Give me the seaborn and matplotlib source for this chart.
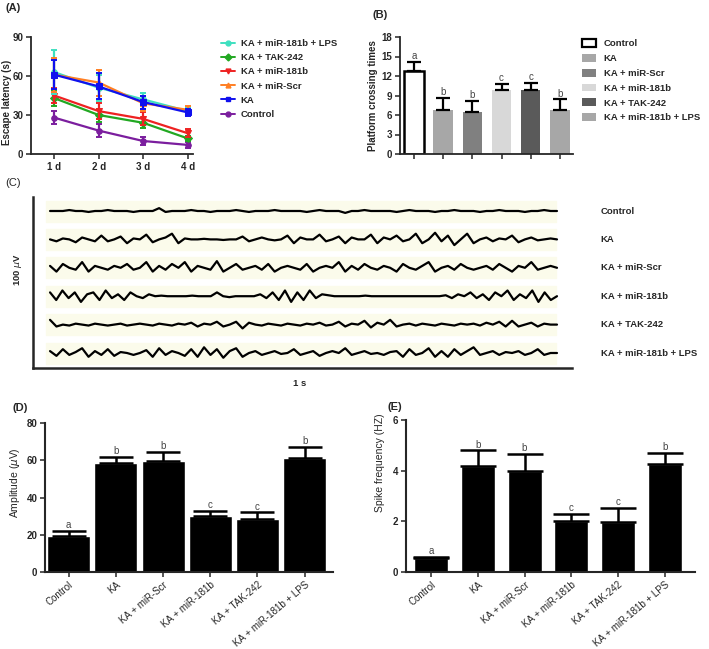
import numpy as np
import matplotlib
matplotlib.use("Agg")
import matplotlib.pyplot as plt
from matplotlib.patches import Patch
from matplotlib.lines import Line2D
import seaborn as sns

sns.set_style("ticks")
plt.rcParams['font.family'] = ['Liberation Sans', 'DejaVu Sans']

# ---- data ----
days = [1, 2, 3, 4]
day_labels = ["1 d", "2 d", "3 d", "4 d"]

latency_lps = [63, 51, 42, 33]
latency_lps_err = [17, 10, 5, 3]
latency_tak = [43, 30, 24, 12]
latency_tak_err = [6, 5, 4, 2]
latency_181b = [45, 33, 27, 16]
latency_181b_err = [6, 6, 5, 3]
latency_scr = [61, 55, 39, 34]
latency_scr_err = [13, 10, 6, 3]
latency_ka = [61, 52, 40, 32]
latency_ka_err = [11, 10, 5, 3]
latency_ctrl = [28, 18, 10, 7]
latency_ctrl_err = [5, 5, 3, 2]

groups = ["Control", "KA", "KA + miR-Scr", "KA + miR-181b", "KA + TAK-242", "KA + miR-181b + LPS"]
letters = ["a", "b", "b", "c", "c", "b"]

crossing = [12.8, 6.8, 6.5, 9.8, 9.9, 6.7]
crossing_err = [1.4, 1.8, 1.7, 1.0, 1.1, 1.7]

amplitude = [19.5, 58.5, 59.5, 30.0, 28.5, 61.0]
amplitude_err = [2.5, 3.5, 5.0, 3.0, 3.5, 6.0]

spike = [0.55, 4.2, 4.0, 2.0, 1.97, 4.25]
spike_err = [0.05, 0.6, 0.65, 0.3, 0.55, 0.45]

# EEG traces (rough shape)
eeg_ctrl = [0, 0, 0, 0.5, 0, 0, -0.5, 0, 0, 0.5, 0, 0, 0, -0.5, 0, 0, 0, 1.5, -0.5, 0, 0, 0, 0.5, 0, 0,
            -0.5, 0, 0, 0, 0.5, 0, -0.5, 0, 0, 0, 0.5, 0, 0, 0, 0, -0.5, 0, 0.5, 0, 0, 0, -1, 0, 0, 0.5,
            0, 0, 0, 0, -0.5, 0, 0.5, 0, 0, 0, -0.5, 0, 0, 0.5, 0, 0, 0, -0.5, 0, 0, 0.5, 0, 0, 0, -0.5,
            0, 0, 0.5, 0, 0]
eeg_ka = [0, -1, 0.5, 0, -1.5, 1, 0, -1, 2, -1, 0, 1.5, -2, 0.5, 0, 2.5, -1.5, 0, 1, 3, -2, 0.5,
          0, 0, 0.3, 0, 0, -0.3, 0, 0,
          1.5, -1, 0, 1, 0, -0.5, 0, 2, -2, 1, 0, 0, 2.5, -1, 0, 1.5, -2, 1, 0, 0, 2.5, -2, 1, 0, 2,
          -1, 0, 3, -2, 0, 3.5, -1, 2, -3, 0, 3, -2, 0, 1, -1, 0.5, 0, 2, -1.5, 0, 1, -0.5, 0, 0.5, 0]
eeg_scr = [1, -2, 2, 0, -1, 3, -2, 1, 0, -1, 1, 0, 2, -1, 0, 3, -2, 1, -1, 2, 0, 3, -2, 1, 0, -1, 3.5,
           -2, 0, 2, -1, 0, 1, -1, 2, -2, 0, 1, 0, -1, 2, -2, 0, 1, 0, 3, -2, 1, -1, 2, 0, -1, 1, 0,
           -2, 2, 0, -1, 1, 3, -2, 0, 1, -1, 2, 0, -1, 0, 1, -1, 2, 0, -2, 1, 0, 3, -1, 0, 1, 0]
eeg_181b = [2, -2, 3, -1, 2, -3, 1, 2, -2, 3, -1, 1, -2, 2, 0, -1, 1,
            0, 0.3, 0, 0, 0, 0, 0.3, 0, 0, 0,
            2, 0, -0.5, 0, 0, 0, 0,
            1, -1, 2, -2, 3, -3, 2, -2, 3, -1, 1, 0.5,
            0, 0, 0, 0, 0, 0.3, 0, 0, 0, 0, 0, 0, 0, 0, 0, 0, 0, 0,
            0.5, -1, 1, 0, 2, -1, 1, -2, 2, 0, 3, -2, 1, -1, 3, -3, 2, -2, 0]
eeg_tak = [2.5, -1, 0, -0.5, 0.5, 0, -0.5, 0.5, 0, -0.5, 0, 0.5, -0.5, 0, 0.5, 0, -0.5, 0.5, 0, -0.5,
           0.5, 0, 1, -1, 0.5, 0, 1.5, -1, 0, 1.5, -2, 1, 0, -0.5, 0.5, 0, -0.5, 0.5, 0, -0.5, 0.5,
           0, 1, -0.5, 0, 1.5, -1, 0.5, 0, 2, -1.5, 1, 0, 2.5, -1, 0, 0.5, -0.5, 0.5, 0, -0.5, 0.5,
           0, -0.5, 0.5, 0, 0.5, -0.5, 1, 0, 1.5, -1, 2, -1, 0, 1, -1, 0.5, 0, 0]
eeg_lps = [1, -1.5, 2, -1, 0.5, 2.5, -2, 1, -1, 2, -1.5, 0.5, 0, -1, 0, 1.5, -2, 2.5, -1, 1, 0, -1.5,
           2, -2, 3, -1, 2, -2.5, 1, 2.5, -2, 0, 1, -1, 0, 1, -0.5, 0, 2, -1, 0, 1, -1.5, 0, 1, 0,
           2.5, -1, 0, 1, -0.5, 0, -1, 0.5, 1, -2, 2, -1, 0, 2.5, -2, 1, -2, 2, -1, 1, 3, -1, 0, 1,
           -1, 0.5, 0, 1, -1, 0, 2, -1, 0, 0]
eeg_traces = [eeg_ctrl, eeg_ka, eeg_scr, eeg_181b, eeg_tak, eeg_lps]

W, H = 709, 649


def rect(l, t, r, b):
    return [l / W, 1 - b / H, (r - l) / W, (b - t) / H]


def style_axis(ax):
    for s in ["left", "bottom"]:
        ax.spines[s].set_linewidth(1.3)
    sns.despine(ax=ax)
    ax.tick_params(width=1.1, length=3.5, labelsize=7, pad=2)
    for t in ax.get_yticklabels():
        t.set_fontweight("bold")


fig = plt.figure(figsize=(W / 100, H / 100), dpi=100)

# ---------------- (A) escape latency ----------------
axA = fig.add_axes(rect(31, 37, 193, 154))
series = [
    ("KA + miR-181b + LPS", latency_lps, latency_lps_err, "#3fe0c0", "o"),
    ("KA + TAK-242", latency_tak, latency_tak_err, "#22a822", "D"),
    ("KA + miR-181b", latency_181b, latency_181b_err, "#ee2222", "v"),
    ("KA + miR-Scr", latency_scr, latency_scr_err, "#ff7f24", "^"),
    ("KA", latency_ka, latency_ka_err, "#1010ee", "s"),
    ("Control", latency_ctrl, latency_ctrl_err, "#7b1e9e", "o"),
]
handles = []
for name, vals, err, col, mk in [series[5], series[1], series[2], series[0], series[3], series[4]]:
    axA.errorbar(days, vals, yerr=err, fmt="none", ecolor=col, elinewidth=1.6, capsize=2.5, capthick=1.4)
    sns.lineplot(x=days, y=vals, ax=axA, color=col, marker=mk, markersize=4, markeredgecolor=col,
                 linewidth=1.6)
for name, vals, err, col, mk in series:
    handles.append(Line2D([0], [0], color=col, marker=mk, markersize=3.5, linewidth=1.4, label=name))
axA.set_xlim(0.48, 4.12)
axA.set_ylim(0, 90)
axA.set_yticks([0, 30, 60, 90])
axA.set_xticks(days)
axA.set_xticklabels(day_labels, fontweight="bold")
axA.set_ylabel("Escape latency (s)", fontsize=7, fontweight="bold")
axA.yaxis.set_label_coords(-19 / 162, 0.44)
style_axis(axA)
fig.legend(handles=handles, loc="upper left", bbox_to_anchor=(221 / W, 1 - 39 / H), frameon=False,
           prop={"weight": "bold", "size": 6.8}, handlelength=1.5, handletextpad=0.6,
           labelspacing=0.55, borderpad=0, borderaxespad=0)

# ---------------- (B) platform crossing ----------------
axB = fig.add_axes(rect(400, 37, 573, 154))
b_colors = ["white", "#a7a7a7", "#808080", "#d8d8d8", "#5a5a5a", "#a7a7a7"]
sns.barplot(x=groups, y=crossing, hue=groups, palette=b_colors, width=0.67, ax=axB, legend=False,
            linewidth=0, saturation=1)
axB.patches[0].set_edgecolor("black")
axB.patches[0].set_linewidth(1.8)
axB.errorbar(range(len(groups)), crossing, yerr=[np.zeros(len(groups)), crossing_err], fmt="none",
             ecolor="black", elinewidth=1.6, capsize=5, capthick=1.6)
for i, (v, e, l) in enumerate(zip(crossing, crossing_err, letters)):
    axB.text(i, v + e + 0.1, l, ha="center", va="bottom", fontsize=7, color="#444444")
axB.set_xlim(-0.48, 5.45)
axB.set_ylim(0, 18)
axB.set_yticks(range(0, 19, 3))
axB.set_xticks(range(len(groups)))
axB.set_xticklabels([])
axB.set_xlabel("")
axB.set_ylabel("Platform crossing times", fontsize=7, fontweight="bold")
axB.yaxis.set_label_coords(-22 / 173, 0.5)
style_axis(axB)
b_handles = [Patch(facecolor=c, edgecolor="black" if i == 0 else c, linewidth=1.6 if i == 0 else 0, label=g)
             for i, (c, g) in enumerate(zip(b_colors, groups))]
fig.legend(handles=b_handles, loc="upper left", bbox_to_anchor=(582 / W, 1 - 39 / H), frameon=False,
           prop={"weight": "bold", "size": 6.8}, handlelength=1.5, handleheight=0.9, handletextpad=0.8,
           labelspacing=0.6, borderpad=0, borderaxespad=0)

# ---------------- (C) EEG traces ----------------
axC = fig.add_axes(rect(33, 197, 572, 368))
row_gap = 28.4
for i, (g, tr) in enumerate(zip(groups, eeg_traces)):
    base = 15 + (len(groups) - 1 - i) * row_gap
    axC.axhspan(base - 10.5, base + 10.5, xmin=0.025, xmax=0.97, color="#fbfbeb", zorder=0)
    t = np.linspace(0, 5, len(tr))
    sns.lineplot(x=t, y=np.array(tr) * 1.9 + base, ax=axC, color="black", linewidth=1.6)
    axC.text(5.43, base, g, ha="left", va="center", fontsize=6.8, fontweight="bold", clip_on=False)
axC.set_xlim(-0.168, 5.148)
axC.set_ylim(0, 171)
axC.set_xticks([])
axC.set_yticks([])
sns.despine(ax=axC)
for s in ["left", "bottom"]:
    axC.spines[s].set_linewidth(1.8)
fig.text(18 / W, 1 - 270 / H, "100 $\\mu$V", rotation=90, ha="center", va="center", fontsize=6.8,
         fontweight="bold")
fig.text(300 / W, 1 - 383 / H, "1 s", ha="center", va="center", fontsize=6.8, fontweight="bold")


# ---------------- (D) / (E) bar charts ----------------
def black_bars(ax, vals, errs, width, cap, ylim, yticks, ylabel, xl, xr, lab_y, lab_x):
    sns.barplot(x=groups, y=vals, color="black", width=width, ax=ax, saturation=1)
    ax.errorbar(range(len(groups)), vals, yerr=[np.zeros(len(groups)), errs], fmt="none",
                ecolor="black", elinewidth=1.8, capsize=cap, capthick=1.8)
    for i, (v, e, l) in enumerate(zip(vals, errs, letters)):
        ax.text(i, v + e + ylim * 0.005, l, ha="center", va="bottom", fontsize=7, color="#444444")
    ax.set_xlim(xl, xr)
    ax.set_ylim(0, ylim)
    ax.set_yticks(yticks)
    ax.set_xticks(range(len(groups)))
    ax.set_xticklabels(groups, rotation=40, ha="right", rotation_mode="anchor", fontsize=7)
    ax.set_xlabel("")
    ax.set_ylabel(ylabel, fontsize=7.5)
    ax.yaxis.set_label_coords(lab_x, lab_y)
    style_axis(ax)
    for s in ["left", "bottom"]:
        ax.spines[s].set_linewidth(1.5)


axD = fig.add_axes(rect(45, 423, 333, 572))
black_bars(axD, amplitude, amplitude_err, 0.91, 12, 80, [0, 20, 40, 60, 80], "Amplitude ($\\mu$V)",
           -0.5, 5.6, 0.6, -23 / 288)

axE = fig.add_axes(rect(406, 420, 695, 572))
black_bars(axE, spike, spike_err, 0.73, 13, 6, [0, 2, 4, 6], "Spike frequency (HZ)",
           -0.54, 5.65, 0.72, -21 / 289)

# panel letters
fig.text(5 / W, 1 - 8 / H, "(A)", fontsize=8, fontweight="bold", va="center")
fig.text(373 / W, 1 - 15 / H, "(B)", fontsize=8, fontweight="bold", va="center")
fig.text(5 / W, 1 - 183 / H, "(C)", fontsize=8, va="center")
fig.text(12 / W, 1 - 408 / H, "(D)", fontsize=8, fontweight="bold", va="center")
fig.text(387 / W, 1 - 407 / H, "(E)", fontsize=8, fontweight="bold", va="center")

fig.savefig("out.png", dpi=100)
